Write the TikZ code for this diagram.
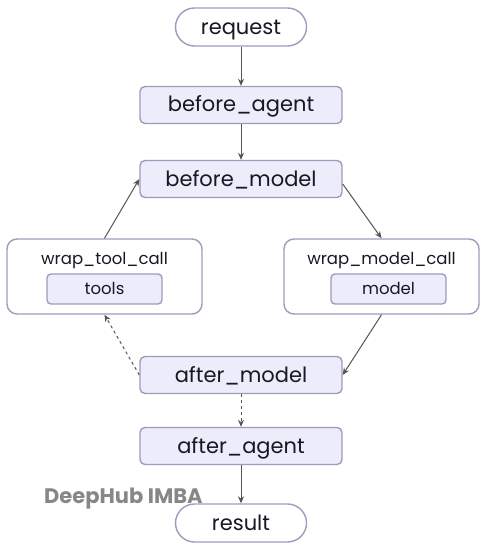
\documentclass[tikz,border=0pt]{standalone}
\usepackage{fontspec}
\setmainfont{Poppins}
\usetikzlibrary{arrows.meta}
\definecolor{lavender}{RGB}{236, 236, 250}
\definecolor{edgegray}{RGB}{156, 156, 190}
\definecolor{linegray}{RGB}{85, 85, 85}
\definecolor{inkblack}{RGB}{24, 24, 36}
\definecolor{markgray}{RGB}{135, 135, 135}
\begin{document}
\begin{tikzpicture}[x=1pt, y=-1pt,
	stepbox/.style={draw=edgegray, line width=1.4pt, fill=lavender, rounded corners=5pt, minimum width=202pt, minimum height=37pt, text=inkblack, text height=16pt, text depth=2pt, font=\fontsize{21}{25}\selectfont},
	endbox/.style={draw=edgegray, line width=1.4pt, fill=white, rounded corners=19pt, minimum width=131pt, minimum height=38pt, text=inkblack, text height=16pt, text depth=1pt, font=\fontsize{21}{25}\selectfont},
	wrapbox/.style={draw=edgegray, line width=1.4pt, fill=white, rounded corners=10pt, minimum width=195pt, minimum height=75pt},
	innerbox/.style={draw=edgegray, line width=1.4pt, fill=lavender, rounded corners=4pt, minimum width=115pt, minimum height=30pt, text=inkblack, text height=12.5pt, text depth=2.5pt, font=\fontsize{16.5}{20}\selectfont},
	wraplabel/.style={text=inkblack, text height=12.5pt, text depth=2.5pt, font=\fontsize{16.5}{20}\selectfont},
	flow/.style={draw=linegray, line width=1pt, -{Stealth[length=7pt, width=6pt]}}]
			\useasboundingbox[fill=white] (0,0) rectangle (494,553);
			% Nodes - main column
			\node[endbox] (req) at (241,27) {request};
			\node[stepbox] (ba) at (241,105) {before\_agent};
			\node[stepbox] (bm) at (241,179) {before\_model};
			\node[stepbox] (am) at (241,375) {after\_model};
			\node[stepbox] (aa) at (241,446) {after\_agent};
			\node[endbox] (res) at (241,523) {result};
			
			% Nodes - wrappers
			\node[wrapbox] (wtc) at (104.5,276.5) {};
			\node[wraplabel] (wtcl) at (104.5,259.5) {wrap\_tool\_call};
			\node[innerbox] (tools) at (104.5,289) {tools};
			\node[wrapbox] (wmc) at (381.5,276.5) {};
			\node[wraplabel] (wmcl) at (381.5,259.5) {wrap\_model\_call};
			\node[innerbox] (model) at (388.5,289) {model};
			
			% Watermark
			\node[text=markgray, anchor=base west, inner sep=0pt, font=\fontsize{21}{25}\selectfont\bfseries] (mark) at (44,503) {DeepHub IMBA};
			
			% Edges
			\draw[flow] (req) -- (ba); \draw[flow] (ba) -- (bm);
			\draw[flow] ([yshift=-5pt]bm.east) -- (wmc.north); \draw[flow] (wmc.south) -- (am.east);
			\draw[flow, dashed] (am.west) -- (wtc.south); \draw[flow] (wtc.north) -- (bm.west);
			\draw[flow, dashed] (am) -- (aa); \draw[flow] (aa) -- (res);
		\end{tikzpicture}
\end{document}
